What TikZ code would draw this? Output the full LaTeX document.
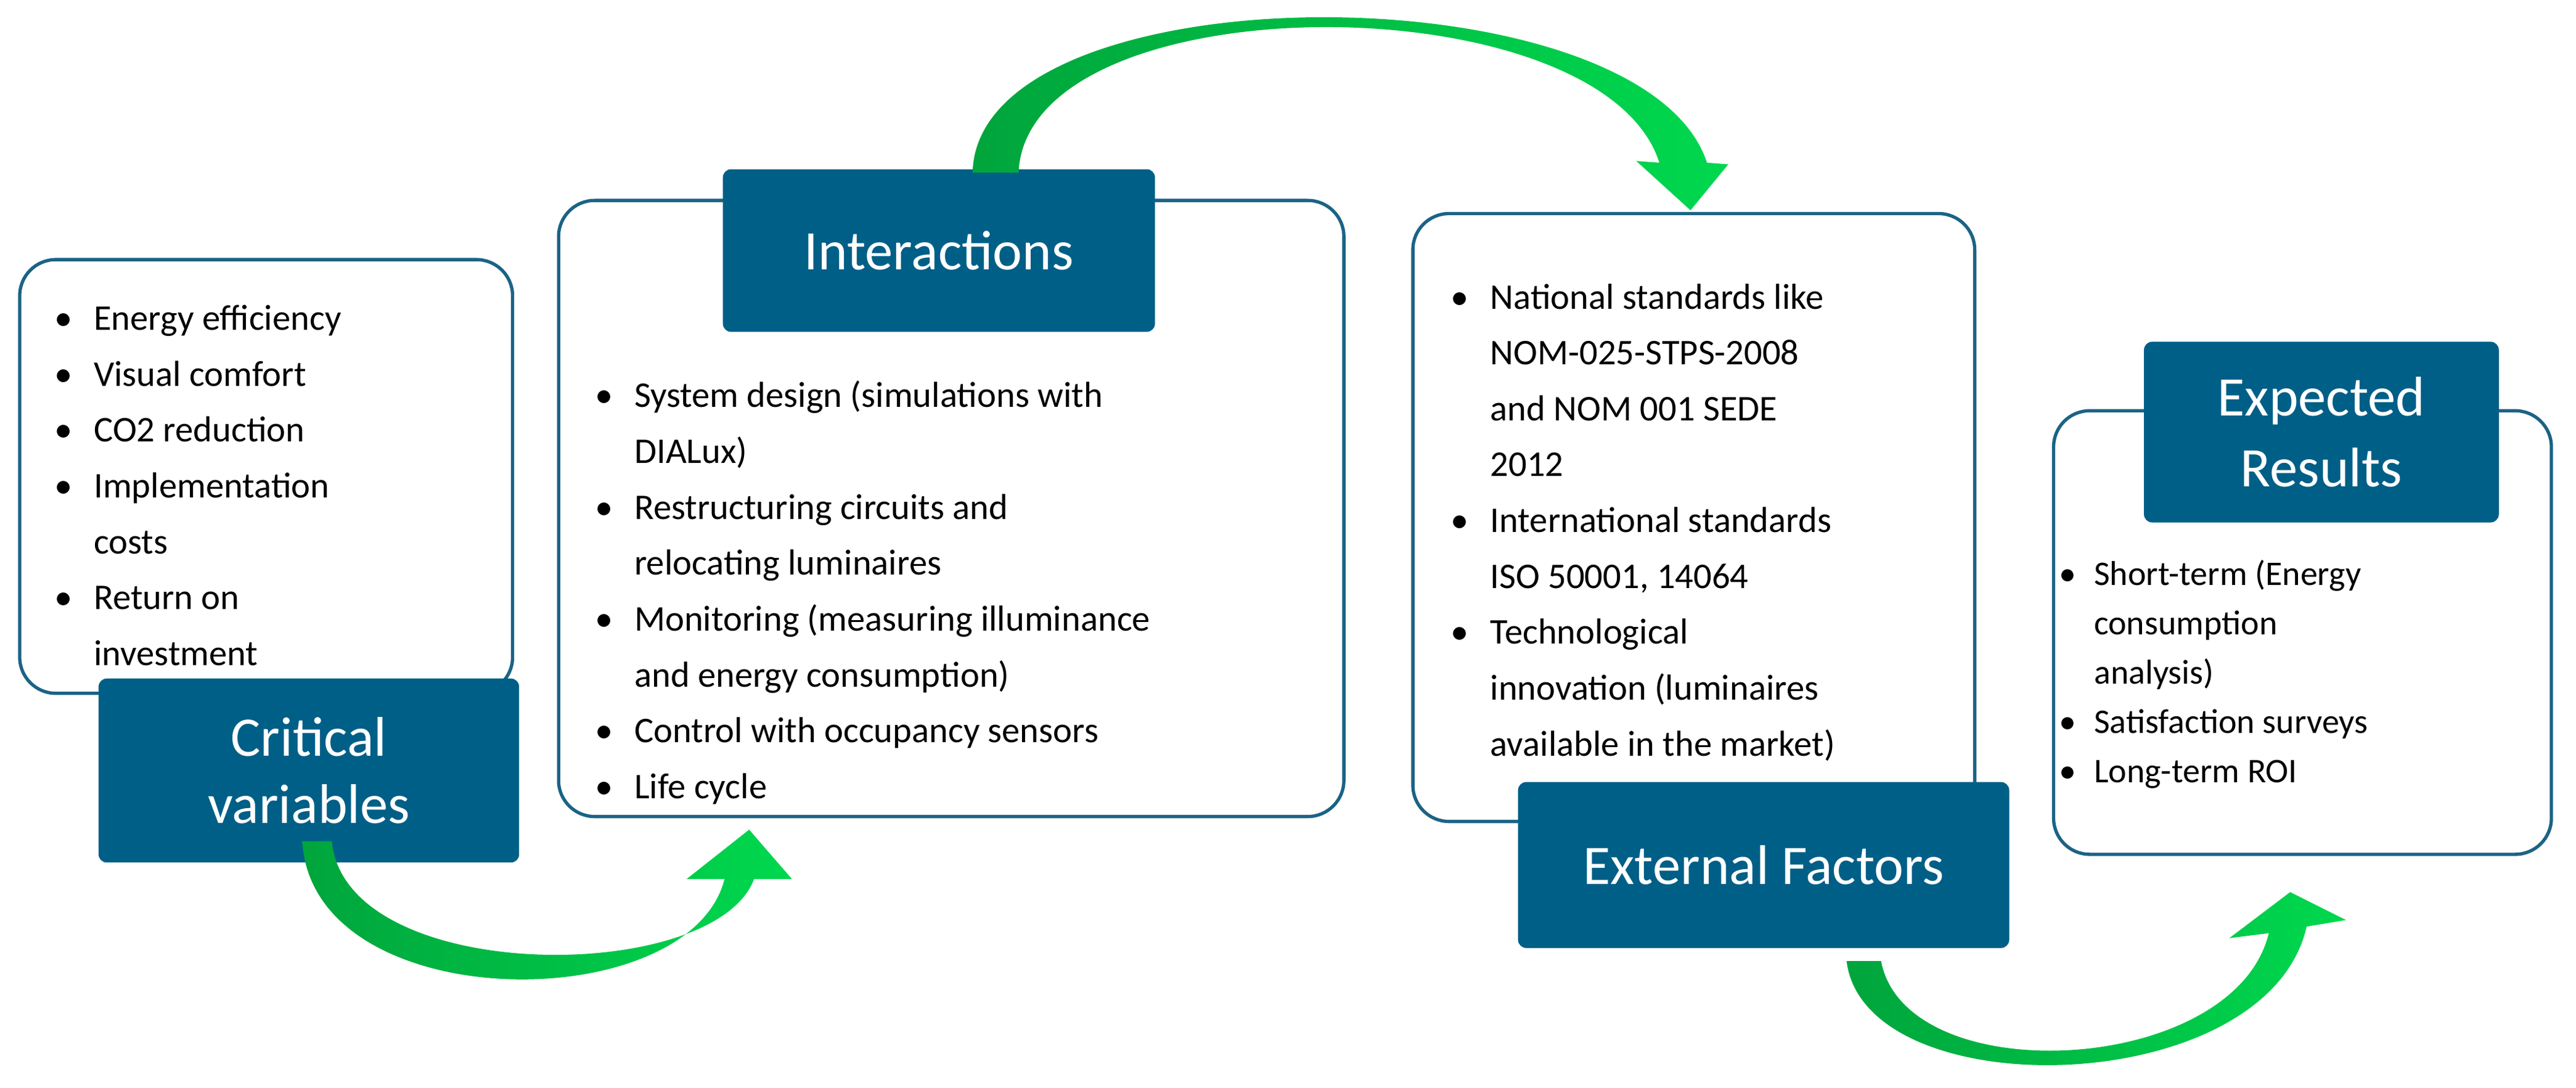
\documentclass[tikz,border=0pt]{standalone}
\usepackage{fontspec}
\setmainfont{Carlito}
\definecolor{hdr}{HTML}{005F87}
\definecolor{brd}{HTML}{1B6385}
\definecolor{gdark}{HTML}{00A53C}
\definecolor{glight}{HTML}{00D84E}
\begin{document}
\begin{tikzpicture}[x=1pt,y=-1pt,
  box/.style={draw=brd,line width=2pt,rounded corners=22pt,fill=white},
  hd/.style={fill=hdr,rounded corners=5pt,text=white,align=center,font=\fontsize{34}{41}\selectfont,inner sep=0pt},
  txt/.style={anchor=north west,inner sep=0pt,font=\fontsize{22}{34}\selectfont},
  arr/.style={left color=gdark,right color=glight}]
\useasboundingbox (0,0) rectangle (1568,662);
% boxes
\draw[box] (12,158) rectangle (312,422);
\draw[box] (340,122) rectangle (818,497);
\draw[box] (860,130) rectangle (1202,500);
\draw[box] (1250,250) rectangle (1553,520);
\node[txt] (t1) at (33,177) {\begin{tabular}{@{}l@{\hspace{13pt}}l@{}}
\textbullet & Energy efficiency\\ \textbullet & Visual comfort\\ \textbullet & CO2 reduction\\
\textbullet & Implementation\\ & costs\\ \textbullet & Return on\\ & investment\end{tabular}};
\node[txt] (t2) at (362,224) {\begin{tabular}{@{}l@{\hspace{13pt}}l@{}}
\textbullet & System design (simulations with\\ & DIALux)\\ \textbullet & Restructuring circuits and\\ & relocating luminaires\\
\textbullet & Monitoring (measuring illuminance\\ & and energy consumption)\\ \textbullet & Control with occupancy sensors\\ \textbullet & Life cycle\end{tabular}};
\node[txt] (t3) at (883,164) {\begin{tabular}{@{}l@{\hspace{13pt}}l@{}}
\textbullet & National standards like\\ & NOM-025-STPS-2008\\ & and NOM 001 SEDE\\ & 2012\\
\textbullet & International standards\\ & ISO 50001, 14064\\ \textbullet & Technological\\ & innovation (luminaires\\ & available in the market)\end{tabular}};
\node[txt,font=\fontsize{21}{30}\selectfont] (t4) at (1253,335) {\begin{tabular}{@{}l@{\hspace{11pt}}l@{}}
\textbullet & Short-term (Energy\\ & consumption\\ & analysis)\\ \textbullet & Satisfaction surveys\\ \textbullet & Long-term ROI\end{tabular}};
% headers
\node[hd,minimum width=256pt,minimum height=112pt] (h1) at (188,469) {Critical\\variables};
\node[hd,minimum width=263pt,minimum height=99pt] (h2) at (571.5,152.5) {Interactions};
\node[hd,minimum width=299pt,minimum height=101pt] (h3) at (1073.5,526.5) {External Factors};
\node[hd,minimum width=216pt,minimum height=110pt,font=\fontsize{34}{43}\selectfont] (h4) at (1413,263) {Expected\\Results};
% arrows
\shade[arr] (184,512) .. controls (190,620) and (420,620) .. (441,535) -- (418,535) -- (456,505) -- (482,535) -- (459,535)
  .. controls (435,600) and (210,600) .. (202,512) -- cycle;
\shade[arr] (592,105) .. controls (595,-20) and (1000,-20) .. (1039,99) -- (1052,100) -- (1029,128) -- (996,98) -- (1010,99)
  .. controls (975,-12) and (625,-12) .. (620,105) -- cycle;
\shade[arr] (1124,585) .. controls (1135,675) and (1380,670) .. (1404,564) -- (1428,560) -- (1394,543) -- (1357,571) -- (1381,568)
  .. controls (1360,655) and (1160,665) .. (1145,585) -- cycle;
\end{tikzpicture}
\end{document}
